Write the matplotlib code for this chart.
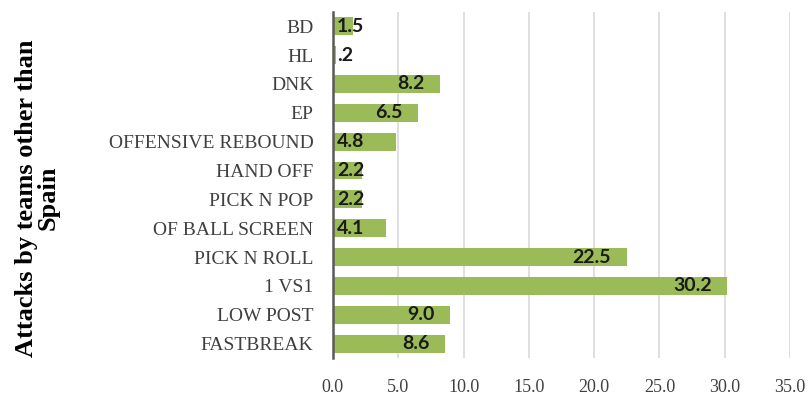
import matplotlib.pyplot as plt

categories = ['FASTBREAK', 'LOW POST', '1 VS1', 'PICK N ROLL', 'OF BALL SCREEN',
              'PICK N POP', 'HAND OFF', 'OFFENSIVE REBOUND', 'EP', 'DNK', 'HL', 'BD']
values = [8.6, 9.0, 30.2, 22.5, 4.1, 2.2, 2.2, 4.8, 6.5, 8.2, 0.2, 1.5]
labels = ['8.6', '9.0', '30.2', '22.5', '4.1', '2.2', '2.2', '4.8', '6.5', '8.2', '.2', '1.5']
xticks = [0, 5, 10, 15, 20, 25, 30, 35]

fig = plt.figure(figsize=(8.12, 3.96), dpi=100)
ax = fig.add_axes([0.410, 0.096, 0.563, 0.874])

y = range(len(categories))
ax.barh(y, values, height=0.62, color='#9bbb59', zorder=2)

# data labels, Excel-style "inside end" (small bars spill out to the right)
for i, (v, lab) in enumerate(zip(values, labels)):
    if v >= 6:
        ax.text(v - 1.2, i, lab, ha='right', va='center', fontsize=14,
                fontweight='bold', family='Lato', color='#1a1a1a', zorder=3)
    else:
        ax.text(0.3, i, lab, ha='left', va='center', fontsize=14,
                fontweight='bold', family='Lato', color='#1a1a1a', zorder=3)

ax.set_xlim(0, 35)
ax.set_ylim(-0.5, len(categories) - 0.5)
ax.set_xticks(xticks)
ax.set_xticklabels([f'{t:.1f}' for t in xticks], family='Liberation Serif',
                   fontsize=13, color='#404040')
ax.set_yticks(list(y))
ax.set_yticklabels(categories, family='Liberation Serif', fontsize=14, color='#404040')
ax.tick_params(axis='x', length=0, pad=15)
ax.tick_params(axis='y', length=0, pad=14)

ax.grid(axis='x', color='#d9d9d9', linewidth=1.2, zorder=0)
for s in ['top', 'right', 'bottom']:
    ax.spines[s].set_visible(False)
ax.spines['left'].set_color('#595959')
ax.spines['left'].set_linewidth(1.8)
ax.spines['left'].set_zorder(4)

fig.text(0.046, 0.50, 'Attacks by teams other than\nSpain', rotation=90,
         ha='center', va='center', family='Liberation Serif', fontweight='bold',
         fontsize=19, linespacing=0.95, color='black')

fig.savefig('out.png', dpi=100)
